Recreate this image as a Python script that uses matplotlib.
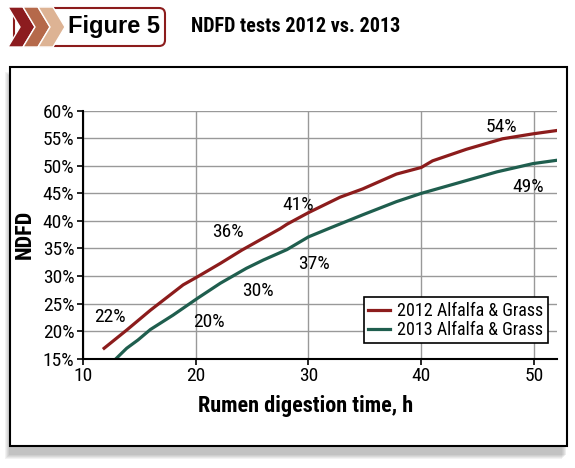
import matplotlib
matplotlib.use('Agg')
import matplotlib.pyplot as plt
from matplotlib.patches import Rectangle, FancyBboxPatch, Polygon

# Data
hours_2012 = [11.9, 13.9, 16.0, 18.9, 20.2, 22.2, 24.1, 27.5, 28.1, 30.0, 32.8, 34.8,
              37.8, 40.0, 41.0, 44.0, 47.2, 49.9, 52.0]
ndfd_2012 = [16.9, 20.2, 23.8, 28.4, 29.9, 32.3, 34.7, 38.6, 39.4, 41.5, 44.3, 45.8,
             48.5, 49.7, 50.9, 53.0, 54.9, 55.8, 56.4]

hours_2013 = [12.9, 13.9, 14.9, 16.0, 18.0, 20.2, 22.2, 24.5, 26.0, 28.1, 30.0, 31.9,
              34.8, 37.8, 40.0, 43.1, 46.7, 49.9, 52.0]
ndfd_2013 = [14.9, 16.9, 18.4, 20.3, 22.9, 26.0, 28.7, 31.4, 32.9, 34.8, 37.1, 38.7,
             41.1, 43.5, 45.0, 46.8, 48.9, 50.4, 51.0]

series_names = ['2012 Alfalfa & Grass', '2013 Alfalfa & Grass']
series_colors = ['#8c1c1c', '#1f5e4e']

# value labels: (text, x, y)
labels = [('22%', 12.4, 22.6), ('20%', 21.2, 21.7), ('30%', 25.5, 27.2),
          ('36%', 22.9, 37.9), ('41%', 29.05, 42.9), ('37%', 30.5, 32.2),
          ('54%', 47.1, 57.1), ('49%', 49.5, 46.2)]

plt.rcParams['font.family'] = ['Roboto Condensed', 'DejaVu Sans']

fig = plt.figure(figsize=(5.75, 4.68), dpi=100)

# background layer in pixel coordinates
bg = fig.add_axes([0, 0, 1, 1], zorder=-1)
bg.set_xlim(0, 575)
bg.set_ylim(468, 0)
bg.axis('off')

# shadow of the chart box
for i, a in enumerate([0.10, 0.10, 0.12, 0.12, 0.14]):
    bg.add_patch(Rectangle((5 + i, 72 + i), 557, 387 - 2 * i, facecolor='#808080',
                           alpha=a, edgecolor='none'))
bg.add_patch(Rectangle((10, 67), 557, 379, facecolor='white', edgecolor='black', lw=1.5))

# header box and chevrons
bg.add_patch(FancyBboxPatch((14, 8), 151, 38, boxstyle='round,pad=0,rounding_size=6',
                            facecolor='white', edgecolor='#8c1c1c', lw=1.5))
chev_colors = ['#8c1c1f', '#b5694a', '#ddb394']
for k, c in enumerate(chev_colors):
    x0 = 8 + k * 15
    bg.add_patch(Polygon([(x0, 7), (x0 + 15, 7), (x0 + 27, 27), (x0 + 15, 47),
                          (x0, 47), (x0 + 12, 27)], closed=True, facecolor=c,
                         edgecolor='white', lw=1.0))
bg.text(114, 27, 'Figure 5', fontsize=17, fontweight='bold', ha='center', va='center',
        family=['Liberation Sans', 'DejaVu Sans'])
bg.text(191, 27, 'NDFD tests 2012 vs. 2013', fontsize=14.5, fontweight='bold',
        ha='left', va='center')

ax = fig.add_axes([0.1438, 0.2335, 0.8244, 0.53])
ax.plot(hours_2012, ndfd_2012, color=series_colors[0], lw=2.3, label=series_names[0])
ax.plot(hours_2013, ndfd_2013, color=series_colors[1], lw=2.3, label=series_names[1])

for txt, x, y in labels:
    ax.text(x, y, txt, fontsize=14, ha='center', va='center')

ax.set_xlim(10, 52)
ax.set_ylim(15, 60)
ax.set_xticks([10, 20, 30, 40, 50])
ax.set_yticks(range(15, 61, 5))
ax.set_yticklabels([f'{v}%' for v in range(15, 61, 5)])
ax.tick_params(labelsize=14, length=4, width=1.2, direction='out', pad=2)
ax.grid(True, color='#999999', lw=1)
ax.set_axisbelow(True)
for s in ['top', 'right']:
    ax.spines[s].set_visible(False)
for s in ['left', 'bottom']:
    ax.spines[s].set_linewidth(1.5)

ax.set_xlabel('Rumen digestion time, h', fontsize=16, fontweight='bold')
ax.xaxis.set_label_coords(0.471, -0.148)
ax.set_ylabel('NDFD', fontsize=16, fontweight='bold')
ax.yaxis.set_label_coords(-0.098, 0.5)

leg = ax.legend(loc='lower right', bbox_to_anchor=(0.981, 0.062), borderaxespad=0,
                fontsize=13, fancybox=False, edgecolor='black', framealpha=1,
                handlelength=1.2, handletextpad=0.4, labelspacing=0.05, borderpad=0.25)
leg.get_frame().set_linewidth(1.2)

fig.savefig('out.png', dpi=100)
